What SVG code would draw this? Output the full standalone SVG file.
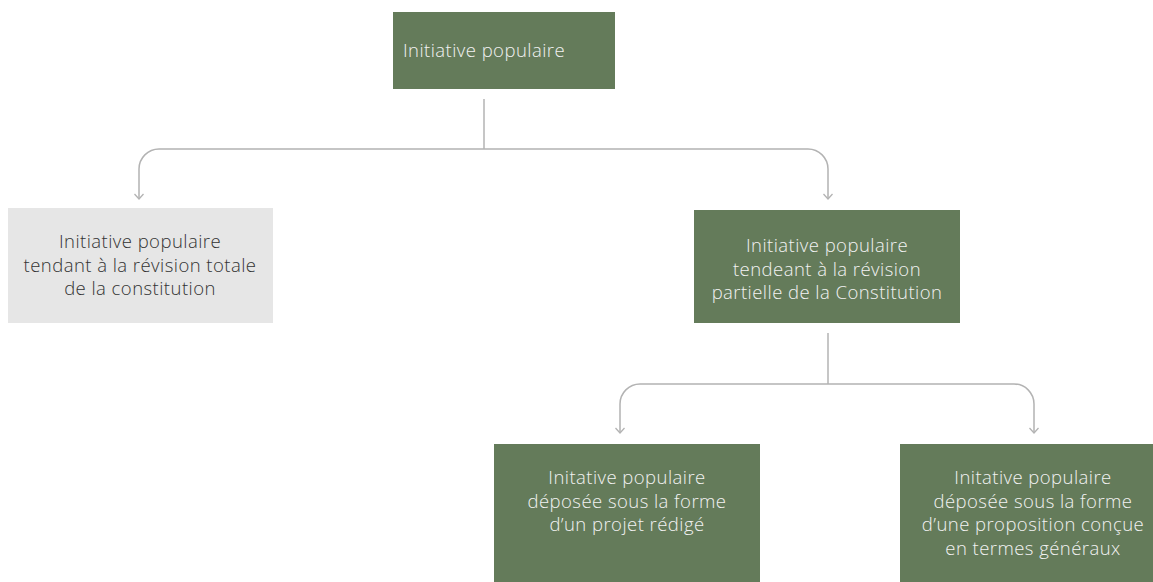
<svg xmlns="http://www.w3.org/2000/svg" width="1153" height="582" viewBox="0 0 1153 582">
<style>
.green{fill:#647b5a}
.gray{fill:#e6e6e6}
.t{font-family:"Open Sans",Lato,"Liberation Sans",sans-serif;font-size:18.5px;font-weight:300;letter-spacing:0.45px;text-anchor:middle}
.tw{fill:#f2f2f2}
.td{fill:#333333}
.c{fill:none;stroke:#b3b3b3;stroke-width:1.5}
</style>
<defs>
<marker id="arr" viewBox="-7 -6 8 12" markerWidth="8" markerHeight="12" refX="0" refY="0" orient="auto" markerUnits="userSpaceOnUse">
<path d="M-5,-4.5 L0,0 L-5,4.5" fill="none" stroke="#b3b3b3" stroke-width="1.3"/>
</marker>
</defs>
<rect width="1153" height="582" fill="#ffffff"/>
<g id="connectors">
<path class="c" d="M484,99 V149"/>
<path class="c" d="M484,149 H159 A20,20 0 0 0 139,169 V199" marker-end="url(#arr)"/>
<path class="c" d="M484,149 H808 A20,20 0 0 1 828,169 V199" marker-end="url(#arr)"/>
<path class="c" d="M828,333 V384"/>
<path class="c" d="M828,384 H640 A20,20 0 0 0 620,404 V433" marker-end="url(#arr)"/>
<path class="c" d="M828,384 H1014 A20,20 0 0 1 1034,404 V433" marker-end="url(#arr)"/>
</g>
<g id="node-root">
<rect class="green" x="393" y="12" width="222" height="77"/>
<text class="t tw" x="484" y="57">Initiative populaire</text>
</g>
<g id="node-totale">
<rect class="gray" x="8" y="208" width="265" height="115"/>
<text class="t td" x="140" y="248">Initiative populaire</text>
<text class="t td" x="140" y="271.5">tendant à la révision totale</text>
<text class="t td" x="140" y="295">de la constitution</text>
</g>
<g id="node-partielle">
<rect class="green" x="694" y="210" width="266" height="113"/>
<text class="t tw" x="827" y="252">Initiative populaire</text>
<text class="t tw" x="827" y="275.5">tendeant à la révision</text>
<text class="t tw" x="827" y="299">partielle de la Constitution</text>
</g>
<g id="node-projet">
<rect class="green" x="494" y="444" width="266" height="145"/>
<text class="t tw" x="627" y="484">Initative populaire</text>
<text class="t tw" x="627" y="507.5">déposée sous la forme</text>
<text class="t tw" x="627" y="531">d’un projet rédigé</text>
</g>
<g id="node-proposition">
<rect class="green" x="900" y="444" width="266" height="145"/>
<text class="t tw" x="1033" y="484">Initative populaire</text>
<text class="t tw" x="1033" y="507.5">déposée sous la forme</text>
<text class="t tw" x="1033" y="531">d’une proposition conçue</text>
<text class="t tw" x="1033" y="554.5">en termes généraux</text>
</g>
</svg>
